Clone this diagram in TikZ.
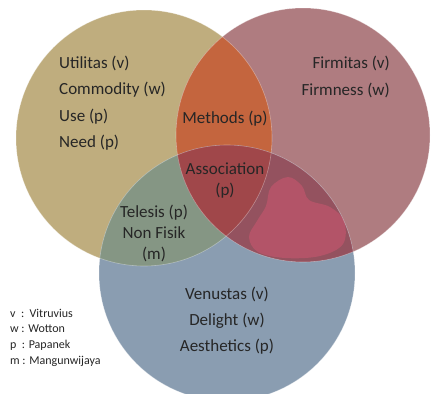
\documentclass[tikz,border=0pt]{standalone}
\usepackage{fontspec}
\setmainfont{Carlito}
\definecolor{utilcol}{HTML}{BFAD7E}
\definecolor{firmcol}{HTML}{AF7C80}
\definecolor{venucol}{HTML}{8A9DB1}
\definecolor{methcol}{HTML}{C4653E}
\definecolor{telecol}{HTML}{859684}
\definecolor{redblue}{HTML}{94525F}
\definecolor{asscol}{HTML}{A0474A}
\definecolor{blobcol}{HTML}{B35468}
\definecolor{txtcol}{HTML}{262626}
\begin{document}
\begin{tikzpicture}
  [x=1pt,y=1pt,every node/.style={text=txtcol,font=\fontsize{17}{20}\selectfont,inner sep=0pt},
   legend/.style={anchor=west,font=\fontsize{12}{14}\selectfont}]
  \useasboundingbox (0,0) rectangle (432,-394);
  \fill[white] (0,0) rectangle (432,-394);

  % circles
  \def\util{(144,-138) circle (128)}
  \def\firm{(303,-135) circle (127)}
  \def\venu{(227,-273) circle (128)}
  \fill[utilcol] \util;
  \fill[firmcol] \firm;
  \fill[venucol] \venu;
  \begin{scope}
    \clip \util;
    \fill[methcol] \firm;
    \fill[telecol] \venu;
  \end{scope}
  \begin{scope}
    \clip \firm;
    \fill[redblue] \venu;
    \clip \util;
    \fill[asscol] \venu;
  \end{scope}
  \fill[blobcol] plot[smooth cycle,tension=0.6] coordinates
    {(288,-177) (302,-186) (309,-200) (330,-207) (344,-221) (343,-244)
     (320,-256) (285,-258) (258,-252) (249,-237) (257,-221) (266,-206) (271,-187)};
  \foreach \c in {\util,\firm,\venu}
    \draw[white,opacity=.35,line width=.6pt] \c;

  % yellow
  \node[anchor=west] (u1) at (59,-63) {Utilitas (v)};
  \node[anchor=west] (u2) at (59,-90) {Commodity (w)};
  \node[anchor=west] (u3) at (59,-117) {Use (p)};
  \node[anchor=west] (u4) at (59,-143) {Need (p)};
  % red
  \node[anchor=east] (f1) at (390,-63) {Firmitas (v)};
  \node[anchor=east] (f2) at (390,-90) {Firmness (w)};
  % overlaps
  \node (m1) at (225,-119) {Methods (p)};
  \node (a1) at (225,-169) {Association};
  \node (a2) at (225,-191) {(p)};
  \node (t1) at (154,-213) {Telesis (p)};
  \node (t2) at (154,-233) {Non Fisik};
  \node (t3) at (154,-254) {(m)};
  % blue
  \node (v1) at (227,-294) {Venustas (v)};
  \node (v2) at (227,-321) {Delight (w)};
  \node (v3) at (227,-347) {Aesthetics (p)};

  % legend
  \node[legend] (l1) at (10,-313) {v\ \ :\ \ Vitruvius};
  \node[legend] (l2) at (10,-329) {w : Wotton};
  \node[legend] (l3) at (10,-345) {p\ \ : Papanek};
  \node[legend] (l4) at (10,-361) {m : Mangunwijaya};
\end{tikzpicture}
\end{document}
